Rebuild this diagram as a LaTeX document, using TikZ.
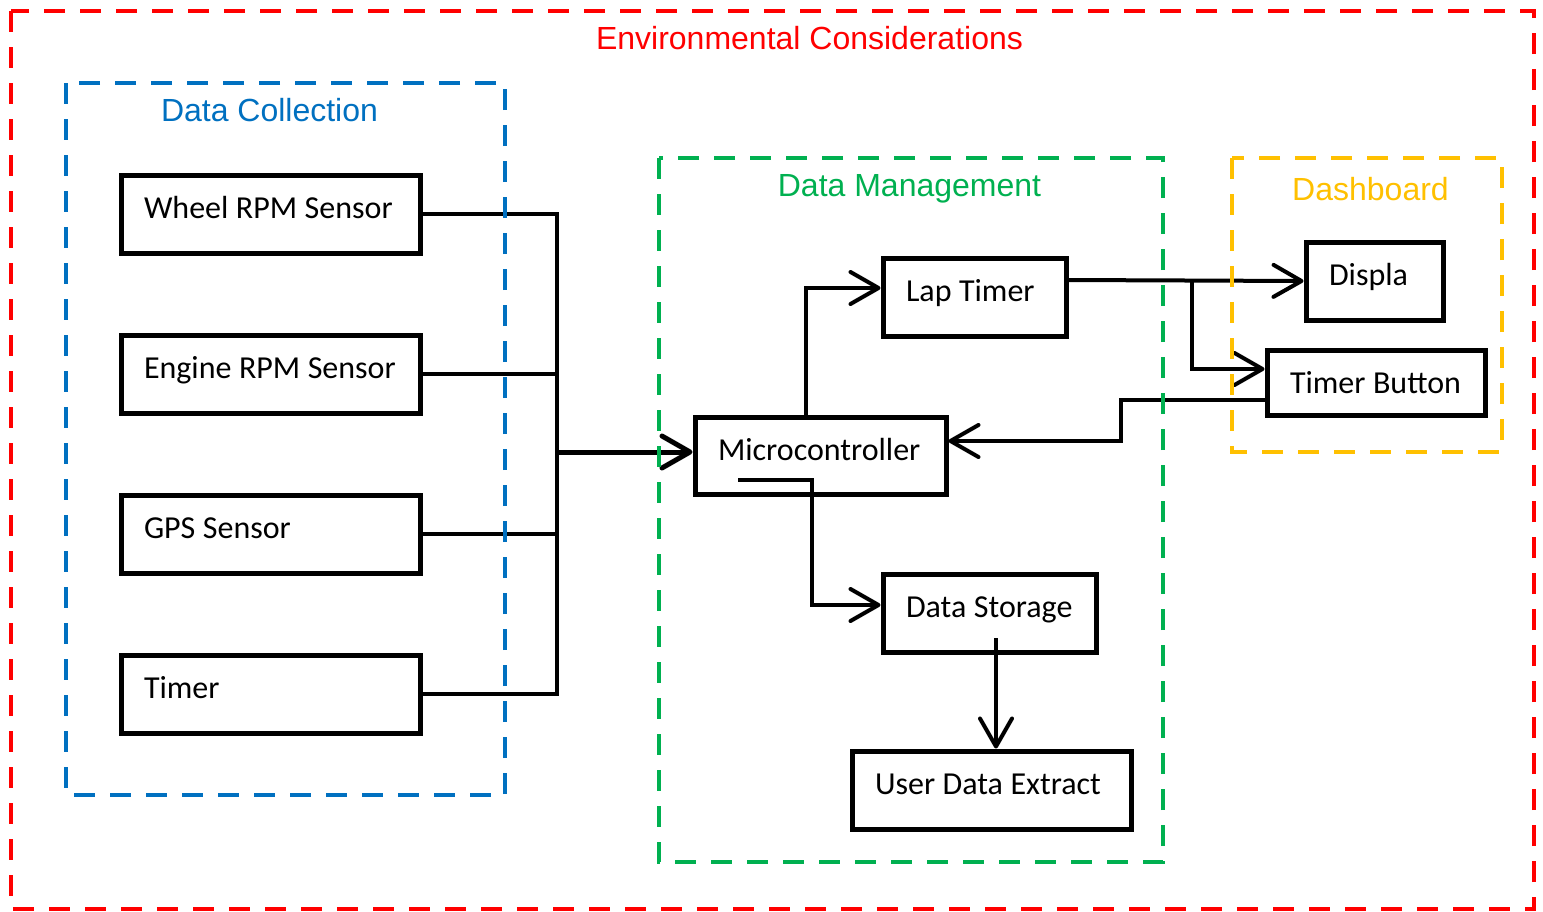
\documentclass[tikz,border=0pt]{standalone}
\usepackage{fontspec}
\setmainfont{Carlito}
\newfontfamily\titlefont{Liberation Sans}
\usetikzlibrary{arrows.meta}
\definecolor{envred}{RGB}{255,0,0}
\definecolor{dcblue}{RGB}{0,112,192}
\definecolor{dmgreen}{RGB}{0,176,80}
\definecolor{dbyellow}{RGB}{255,192,0}
\newcommand\boxtxt[1]{\mbox{\spaceskip=7.5pt\relax #1}}
\tikzset{
  box/.style={draw=black, line width=5pt, inner xsep=23pt, inner ysep=0pt,
    text height=43pt, align=left, font=\fontsize{32}{38}\selectfont},
  frame/.style={line width=4.5pt, dash pattern=on 21pt off 15pt},
  ttl/.style={anchor=base, font=\titlefont\fontsize{32}{38}\selectfont, inner sep=0pt},
  conn/.style={draw=black, line width=4pt},
  arr/.style={conn, -{Straight Barb[length=28pt,width=32pt,round]}},
}
\begin{document}
\begin{tikzpicture}[x=1pt,y=-1pt]
\useasboundingbox (0,0) rectangle (1543,911);
% boxes
\node[box, text width=253pt, text depth=35pt] (wheel)  at (270.5,214) {\boxtxt{Wheel RPM Sensor}};
\node[box, text width=253pt, text depth=35pt] (engine) at (270.5,374) {\boxtxt{Engine RPM Sensor}};
\node[box, text width=253pt, text depth=35pt] (gps)    at (270.5,534) {\boxtxt{GPS Sensor}};
\node[box, text width=253pt, text depth=35pt] (timer)  at (270.5,694) {\boxtxt{Timer}};
\node[box, text width=137pt, text depth=35pt] (lap)    at (974.5,297) {\boxtxt{Lap Timer}};
\node[box, text width=205pt, text depth=34pt] (micro)  at (820.5,455.5) {\boxtxt{Microcontroller}};
\node[box, text width=167pt, text depth=35pt] (storage) at (989.5,613) {\boxtxt{Data Storage}};
\node[box, text width=233pt, text depth=35pt] (user)   at (991.5,790) {\boxtxt{User Data Extract}};
\node[box, text width=91pt,  text depth=35pt] (displa) at (1374.5,281) {\boxtxt{Displa}};
\node[box, text width=172pt, text depth=22pt] (tbutton) at (1376,382.5) {\boxtxt{Timer Button}};
% helper coordinates
\coordinate (busT) at (557,214);
\coordinate (busB) at (557,694);
\coordinate (busM) at (557,452);
\coordinate (brx) at (1192,0);
\coordinate (j1) at (1121,441);
\coordinate (m1) at (738,480);
\coordinate (m2) at (812,480);
\coordinate (s1) at (996,638);
% connectors
\draw[conn] (wheel.east) -- (busT) -- (busB) -- (timer.east);
\draw[conn] (engine.east) -- (engine.east -| busT);
\draw[conn] (gps.east) -- (gps.east -| busT);
\draw[arr, line width=5pt] (busM) -- (micro.west |- busM);
\draw[arr] ([xshift=-14.5pt]micro.north) |- ([yshift=9pt]lap.west);
\draw[arr] ([yshift=17pt]lap.east) -- (displa.west);
\draw[arr] (displa.west -| brx) |- ([yshift=13.5pt]tbutton.west);
\draw[arr] ([yshift=-17.5pt]tbutton.west) -| (j1) -- (micro.east |- j1);
\draw[arr] (m1) -- (m2) |- ([yshift=8pt]storage.west);
\draw[arr] (s1) -- (s1 |- user.north);
% frames
\draw[frame, draw=envred] (11,11) rectangle (1534,909);
\draw[frame, draw=dcblue] (66,83) rectangle (505,795);
\draw[frame, draw=dmgreen] (659,158) rectangle (1163,862);
\draw[frame, draw=dbyellow] (1232,158) rectangle (1502,452);
% titles
\node[ttl, text=envred] (tenv) at (809.5,49) {Environmental Considerations};
\node[ttl, text=dcblue] (tdc) at (269.5,121.5) {Data Collection};
\node[ttl, text=dmgreen] (tdm) at (909.5,196.7) {Data Management};
\node[ttl, text=dbyellow] (tdb) at (1370.5,200.7) {Dashboard};
\end{tikzpicture}
\end{document}
